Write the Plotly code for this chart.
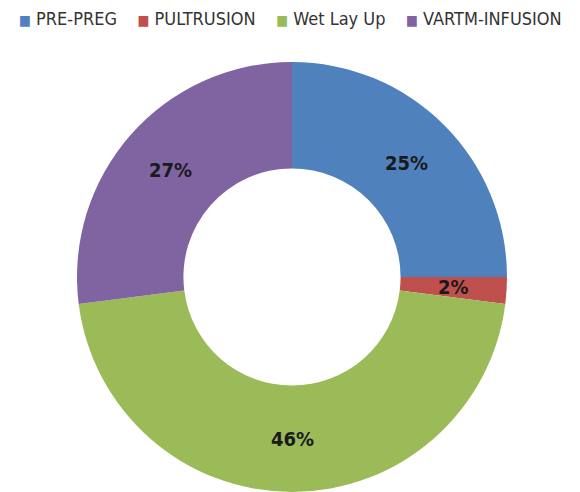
import math
import plotly.graph_objects as go

# Share of composite manufacturing processes (%)
processes = ["PRE-PREG", "PULTRUSION", "Wet Lay Up", "VARTM-INFUSION"]
shares = [25, 2, 46, 27]
slice_colors = ["#4F81BD", "#C0504D", "#9BBB59", "#8064A2"]

W, H = 580, 492
narrow = "Liberation Sans Narrow, Arial Narrow, DejaVu Sans Condensed, sans-serif"

# Donut placement in pixels: centre, outer radius and hole fraction
cx, cy, r = 292, 277, 215
hole = 0.505

fig = go.Figure(
    go.Pie(
        labels=processes,
        values=shares,
        marker=dict(colors=slice_colors, line=dict(width=0)),
        hole=hole,
        sort=False,
        direction="clockwise",
        rotation=0,
        textinfo="none",
        hoverinfo="label+percent",
        showlegend=False,
        domain=dict(
            x=[(cx - r) / W, (cx + r) / W],
            y=[(H - cy - r) / H, (H - cy + r) / H],
        ),
    )
)

# Percentage labels at the middle of each ring segment
total = sum(shares)
ring_mid = r * (1 + hole) / 2
cum = 0
for val in shares:
    theta = 2 * math.pi * (cum + val / 2) / total
    cum += val
    px = cx + ring_mid * math.sin(theta)
    py = cy - ring_mid * math.cos(theta)
    fig.add_annotation(
        x=px / W,
        y=1 - py / H,
        xref="paper",
        yref="paper",
        text=f"<b>{val}%</b>",
        showarrow=False,
        xanchor="center",
        yanchor="middle",
        font=dict(family=narrow, size=20, color="#1a1a1a"),
    )

# Key along the top: coloured square followed by the process name
gap = "&nbsp;" * 4
key_items = [
    f"<span style='color:{c};font-size:14px'>■</span> {name}"
    for name, c in zip(processes, slice_colors)
]
fig.add_annotation(
    x=0.5,
    y=1 - 19 / H,
    xref="paper",
    yref="paper",
    text=gap.join(key_items),
    showarrow=False,
    xanchor="center",
    yanchor="middle",
    font=dict(family=narrow, size=18, color="#333333"),
)

fig.update_layout(
    width=W,
    height=H,
    margin=dict(l=0, r=0, t=0, b=0),
    paper_bgcolor="white",
    plot_bgcolor="white",
)

fig.write_html("out.html")
